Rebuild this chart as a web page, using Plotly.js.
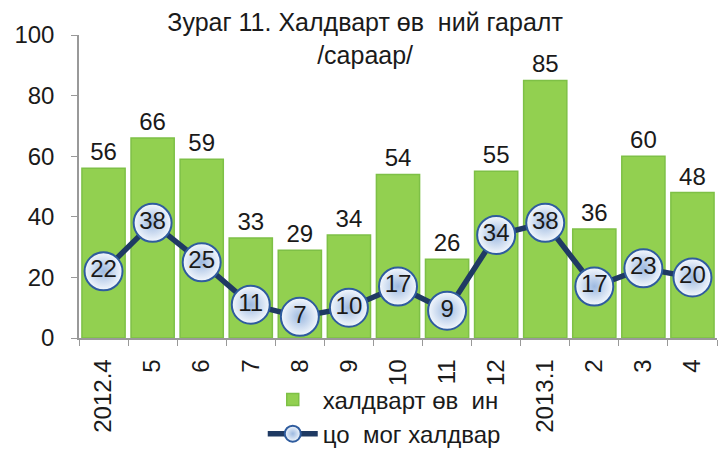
<!DOCTYPE html>
<html><head><meta charset="utf-8">
<script src="https://cdn.plot.ly/plotly-3.0.1.min.js"></script>
<style>html,body{margin:0;padding:0;background:#fff}#chart{width:723px;height:449px}</style>
</head><body><div id="chart"></div>
<script>
const categories = ['2012.4','5','6','7','8','9','10','11','12','2013.1','2','3','4'];
const infections = [56,66,59,33,29,34,54,26,55,85,36,60,48];
const influenza = [22,38,25,11,7,10,17,9,34,38,17,23,20];
const barName = 'халдварт өв  ин';
const lineName = 'цо  мог халдвар';
const titleText = 'Зураг 11. Халдварт өв  ний гаралт<br>/сараар/';

const FONT = 'Liberation Sans, Arial, sans-serif';
const FS = 24;
const traces = [
  {type:'bar', x:categories, y:infections, name:barName,
   marker:{color:'#92D050', line:{color:'#7EC046', width:1.5}},
   text:infections.map(String), textposition:'outside', cliponaxis:false,
   textfont:{size:FS, color:'#1a1a1a', family:FONT}},
  {type:'scatter', mode:'lines+markers+text', x:categories, y:influenza, name:lineName,
   line:{color:'#1F3A63', width:5.5},
   marker:{size:38, color:'#F4F8FD', gradient:{type:'radial', color:'#9DB9E0'},
           line:{color:'#2F5C9E', width:2}},
   text:influenza.map(String), textposition:'middle center', cliponaxis:false,
   textfont:{size:FS, color:'#1a1a1a', family:FONT}}
];
const layout = {
  width:723, height:449,
  margin:{l:79, r:6, t:35, b:111, autoexpand:false},
  paper_bgcolor:'#fff', plot_bgcolor:'#fff',
  font:{family:FONT, size:FS, color:'#1a1a1a'},
  title:{text:titleText, x:0.505, xanchor:'center', y:0.93, yanchor:'top',
         font:{size:25, family:FONT, color:'#1a1a1a'}},
  bargap:0.12,
  showlegend:true,
  legend:{orientation:'v', x:0.288, xanchor:'left', y:-0.13, yanchor:'top',
          font:{size:FS, family:FONT}, bgcolor:'rgba(0,0,0,0)', itemwidth:50, tracegroupgap:0},
  xaxis:{type:'category', range:[-0.5, 12.5], tickangle:-90, ticks:'outside', tickson:'boundaries', ticklen:6,
         tickcolor:'#999', showline:true, linecolor:'#999', linewidth:1.5, automargin:false,
         tickfont:{size:FS, family:FONT}, showgrid:false, ticklabelstandoff:10},
  yaxis:{range:[0,100], dtick:20, ticks:'outside', ticklen:6, tickcolor:'#999', automargin:false,
         showline:true, linecolor:'#999', linewidth:1.5, showgrid:false, zeroline:false,
         tickfont:{size:FS, family:FONT}, ticklabelstandoff:12}
};
Plotly.newPlot('chart', traces, layout, {displayModeBar:false});
</script></body></html>
